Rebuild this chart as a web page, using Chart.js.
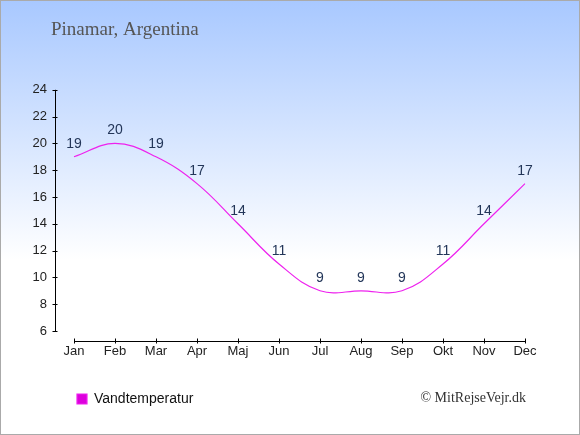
<!DOCTYPE html>
<html>
<head>
<meta charset="utf-8">
<script src="https://cdn.jsdelivr.net/npm/chart.js@4.4.0/dist/chart.umd.min.js"></script>
<style>
  html, body { margin: 0; padding: 0; }
  #ramme {
    position: relative;
    width: 580px;
    height: 435px;
    background: linear-gradient(#a8c8ff 0px, #ffffff 260px);
    box-shadow: inset 0 0 0 1px #aaaaaa;
  }
  #vandChart { position: absolute; left: 0; top: 0; }
</style>
</head>
<body>
<div id="ramme"><canvas id="vandChart" width="580" height="435"></canvas></div>
<script>
// Data
const maaneder = ['Jan', 'Feb', 'Mar', 'Apr', 'Maj', 'Jun', 'Jul', 'Aug', 'Sep', 'Okt', 'Nov', 'Dec'];
const vandtemperatur = [19, 20, 19, 17, 14, 11, 9, 9, 9, 11, 14, 17];
const yAkseMin = 6;
const yAkseMax = 24;
const yAkseTrin = 2;
const titel = 'Pinamar, Argentina';
const serieNavn = 'Vandtemperatur';
const kilde = '\u00A9 MitRejseVejr.dk';

const sansFont = '"Liberation Sans", Arial, sans-serif';
const serifFont = '"Liberation Serif", "Times New Roman", serif';

// y-aksens etiketter står til venstre for layoutets kant, så klippeboksen udvides
const udvidYBoks = {
    id: 'udvidYBoks',
    afterLayout(chart) {
        chart.scales.y.left = 0;
    }
};

// Akselinjer tegnet ved siden af plotområdet (som i originalen)
const akseLinjer = {
    id: 'akseLinjer',
    afterDraw(chart) {
        const ctx = chart.ctx;
        const xs = chart.scales.x;
        const ys = chart.scales.y;
        const area = chart.chartArea;
        const ax = Math.round(area.left - 19) + 0.5;
        const ay = Math.round(area.bottom + 10) + 0.5;
        ctx.save();
        ctx.strokeStyle = '#000000';
        ctx.lineWidth = 1;
        ctx.beginPath();
        ctx.moveTo(ax, ys.getPixelForValue(yAkseMax));
        ctx.lineTo(ax, ys.getPixelForValue(yAkseMin));
        ys.ticks.forEach(function(t) {
            const py = Math.round(ys.getPixelForValue(t.value)) + 0.5;
            ctx.moveTo(ax - 3, py);
            ctx.lineTo(ax + 2, py);
        });
        ctx.moveTo(xs.getPixelForValue(0), ay);
        ctx.lineTo(xs.getPixelForValue(maaneder.length - 1), ay);
        maaneder.forEach(function(m, i) {
            const px = Math.round(xs.getPixelForValue(i)) + 0.5;
            ctx.moveTo(px, ay - 3);
            ctx.lineTo(px, ay + 2);
        });
        ctx.stroke();
        ctx.restore();
    }
};

// Værdier over hvert punkt
const vaerdiEtiketter = {
    id: 'vaerdiEtiketter',
    afterDatasetsDraw(chart) {
        const ctx = chart.ctx;
        const meta = chart.getDatasetMeta(0);
        ctx.save();
        ctx.font = '14px ' + sansFont;
        ctx.fillStyle = '#233659';
        ctx.textAlign = 'center';
        ctx.textBaseline = 'alphabetic';
        meta.data.forEach(function(pt, i) {
            ctx.fillText(String(vandtemperatur[i]), pt.x, pt.y - 9);
        });
        ctx.restore();
    }
};

// Kildeangivelse nederst til højre
const kildeTekst = {
    id: 'kildeTekst',
    afterDraw(chart) {
        const ctx = chart.ctx;
        ctx.save();
        ctx.font = '14px ' + serifFont;
        ctx.fillStyle = '#333333';
        ctx.textAlign = 'right';
        ctx.textBaseline = 'alphabetic';
        ctx.fillText(kilde, chart.chartArea.right + 1, chart.legend.top + 26 + 9.5);
        ctx.restore();
    }
};

function lavGraf() {
    const ctx = document.getElementById('vandChart');
    new Chart(ctx, {
        type: 'line',
        data: {
            labels: maaneder,
            datasets: [{
                label: serieNavn,
                data: vandtemperatur,
                borderColor: '#ee22ee',
                backgroundColor: '#dd00dd',
                borderWidth: 1.2,
                pointRadius: 0,
                pointHoverRadius: 0,
                tension: 0.4,
                fill: false
            }]
        },
        options: {
            responsive: false,
            animation: false,
            events: [],
            layout: {
                padding: { left: 51, right: 55, top: 0, bottom: 19 }
            },
            plugins: {
                title: {
                    display: true,
                    text: titel,
                    align: 'start',
                    color: '#555555',
                    font: { family: serifFont, size: 19, weight: 'normal' },
                    padding: { top: 19, bottom: 48 }
                },
                legend: {
                    display: true,
                    position: 'bottom',
                    align: 'start',
                    labels: {
                        boxWidth: 10,
                        boxHeight: 10,
                        padding: 26,
                        color: '#111111',
                        font: { family: sansFont, size: 14 }
                    }
                },
                tooltip: { enabled: false }
            },
            scales: {
                x: {
                    offset: false,
                    grid: { display: false, drawTicks: false },
                    border: { display: false },
                    ticks: {
                        color: '#222222',
                        font: { family: sansFont, size: 13 },
                        padding: 13,
                        maxRotation: 0,
                        autoSkip: false
                    },
                    afterFit(scale) {
                        scale.height = 35;
                        scale.paddingLeft = 0;
                        scale.paddingRight = 0;
                    }
                },
                y: {
                    min: yAkseMin,
                    max: yAkseMax,
                    grid: { display: false, drawTicks: false },
                    border: { display: false },
                    ticks: {
                        stepSize: yAkseTrin,
                        color: '#222222',
                        font: { family: sansFont, size: 13 },
                        padding: 27
                    },
                    afterFit(scale) {
                        scale.width = 23;
                        scale.paddingTop = 0;
                        scale.paddingBottom = 0;
                    }
                }
            }
        },
        plugins: [udvidYBoks, akseLinjer, vaerdiEtiketter, kildeTekst]
    });
}

document.addEventListener('DOMContentLoaded', function() {
    lavGraf();
});
</script>
</body>
</html>
